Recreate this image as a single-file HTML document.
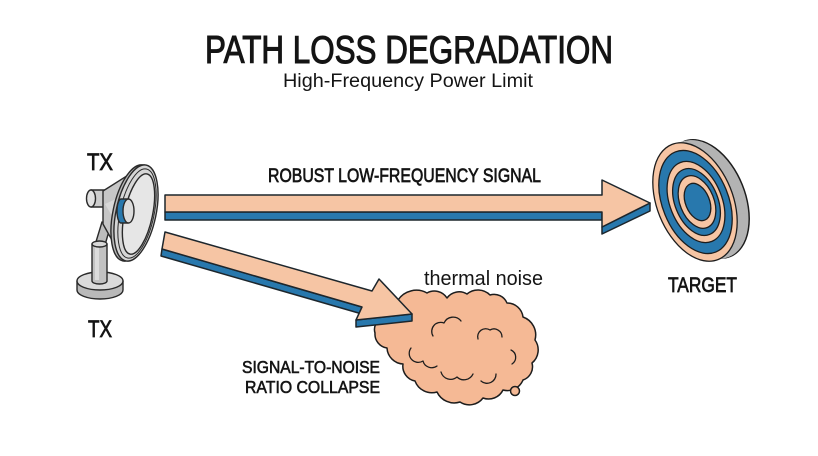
<!DOCTYPE html>
<html>
<head>
<meta charset="utf-8">
<style>
  html,body{margin:0;padding:0;background:#ffffff;}
  body{width:818px;height:456px;overflow:hidden;}
  svg{display:block;}
  text{font-family:"Liberation Sans", sans-serif;fill:#141414;}
</style>
</head>
<body>
<svg width="818" height="456" viewBox="0 0 818 456" xmlns="http://www.w3.org/2000/svg">
  <rect width="818" height="456" fill="#ffffff"/>

  <!-- Titles -->
  <text x="205" y="63" font-size="39" stroke="#141414" stroke-width="1.1" textLength="408" lengthAdjust="spacingAndGlyphs">PATH LOSS DEGRADATION</text>
  <text x="283" y="87" font-size="19" textLength="250" lengthAdjust="spacingAndGlyphs">High-Frequency Power Limit</text>

  <!-- Top arrow -->
  <g stroke="#1d262c" stroke-width="1.5" stroke-linejoin="round">
    <polygon points="165,212 602,212 602,220 165,220" fill="#2878ad"/>
    <polygon points="602,227 650,203 650,211 602,234" fill="#2878ad"/>
    <polygon points="165,195 602,195 602,180 650,203 602,227 602,212 165,212" fill="#f6c5a4"/>
  </g>
  <text x="268" y="182" font-size="19.5" stroke="#141414" stroke-width="0.7" textLength="273" lengthAdjust="spacingAndGlyphs">ROBUST LOW-FREQUENCY SIGNAL</text>

  <!-- Cloud -->
  <g stroke="#1d1d1d" stroke-width="1.5" fill="#f5b995" stroke-linejoin="round">
    <path d="M398,300
      A22,22 0 0 1 427,293
      A15,15 0 0 1 447,298
      A15,15 0 0 1 467,294
      A17,17 0 0 1 490,295
      A14,14 0 0 1 507,303
      A16,16 0 0 1 523,317
      A19,19 0 0 1 535,340
      A17,17 0 0 1 532,363
      A14,14 0 0 1 523,380
      A17,17 0 0 1 503,390
      A16,16 0 0 1 483,398
      A17,17 0 0 1 460,402
      A19,19 0 0 1 437,392
      A18,18 0 0 1 415,381
      A15,15 0 0 1 403,364
      A17,17 0 0 1 387,348
      A14,14 0 0 1 375,333
      A12,12 0 0 1 383,318
      A17,17 0 0 1 398,300 Z"/>
    <circle cx="515" cy="391" r="4.5"/>
    <g fill="none" stroke-width="1.3" stroke-linecap="round">
      <path d="M433,336 A9,9 0 0 1 444,323 A10,10 0 0 1 461,321"/>
      <path d="M478,339 A8,8 0 0 1 490,330 A8,8 0 0 1 502,337"/>
      <path d="M411,348 A9,9 0 0 0 423,361 A9,9 0 0 0 437,366"/>
      <path d="M441,372 A10,10 0 0 0 457,377 A10,10 0 0 0 473,374"/>
      <path d="M481,381 A9,9 0 0 0 496,374"/>
      <path d="M511,350 A8,8 0 0 1 512,364"/>
    </g>
  </g>
  <text x="424" y="285" font-size="20" textLength="119" lengthAdjust="spacingAndGlyphs">thermal noise</text>

  <!-- Lower arrow -->
  <g stroke="#1d262c" stroke-width="1.5" stroke-linejoin="round">
    <polygon points="162,249 362,307 362,314 161,256" fill="#2878ad"/>
    <polygon points="356,320 412,314 412,321 356,327" fill="#2878ad"/>
    <polygon points="165,232 372,291 379,279 412,314 356,320 362,307 162,249" fill="#f6c5a4"/>
  </g>

  <text x="242" y="373" font-size="17.5" stroke="#141414" stroke-width="0.6" textLength="138" lengthAdjust="spacingAndGlyphs">SIGNAL-TO-NOISE</text>
  <text x="245" y="393" font-size="17.5" stroke="#141414" stroke-width="0.6" textLength="135" lengthAdjust="spacingAndGlyphs">RATIO COLLAPSE</text>

  <!-- Speaker (TX) -->
  <g stroke="#2a2a2a" stroke-width="1.4" stroke-linejoin="round">
    <!-- base -->
    <path d="M77,281 L77,290 A23,9 0 0 0 123,290 L123,281 Z" fill="#b9b9b9"/>
    <ellipse cx="100" cy="281" rx="23" ry="9" fill="#dadada"/>
    <!-- pole -->
    <path d="M92,244 L92,281 A7.5,3 0 0 0 107,281 L107,244 Z" fill="#c2c2c2"/>
    <rect x="95" y="247" width="4" height="33" fill="#dcdcdc" stroke="none"/>
    <!-- neck -->
    <polygon points="95,245 105,245 111,224 102,222" fill="#bdbdbd"/>
    <ellipse cx="99.5" cy="244" rx="7.5" ry="3" fill="#d8d8d8"/>
    <!-- back cap -->
    <path d="M91,190 L107,190 L107,207 L91,207 Z" fill="#cdcdcd"/>
    <ellipse cx="91" cy="198.5" rx="4.5" ry="8.5" fill="#e2e2e2"/>
    <!-- cone -->
    <path d="M103,191 L144,165 L123,260 L103,224 Z" fill="#c6c6c6"/>
    <path d="M105,204 L140,188 L130,247 Z" fill="#d8d8d8" stroke="none"/>
    <!-- disc rim -->
    <ellipse cx="133" cy="213" rx="20" ry="49" transform="rotate(12 133 213)" fill="#b8b8b8"/>
    <ellipse cx="136" cy="213" rx="20" ry="49" transform="rotate(12 136 213)" fill="#d6d6d6"/>
    <ellipse cx="137" cy="213.5" rx="17" ry="45.5" transform="rotate(12 137 213.5)" fill="none" stroke-width="1"/>
    <ellipse cx="138.5" cy="214" rx="14" ry="41" transform="rotate(12 138.5 214)" fill="#e6e6e6"/>
    <!-- driver -->
    <path d="M121,199 L128,199 L128,223 L121,223 A4,12 0 0 1 121,199 Z" fill="#2878ad"/>
    <ellipse cx="128.5" cy="211" rx="5.5" ry="12" fill="#dcdcdc"/>
  </g>
  <text x="87" y="170" font-size="24" stroke="#141414" stroke-width="0.8" textLength="26" lengthAdjust="spacingAndGlyphs">TX</text>
  <text x="88" y="337" font-size="24" stroke="#141414" stroke-width="0.8" textLength="24" lengthAdjust="spacingAndGlyphs">TX</text>

  <!-- Target -->
  <g stroke-linejoin="round">
    <ellipse cx="707" cy="199" rx="38" ry="62" transform="rotate(-22 707 199)" fill="#b3b3b3" stroke="#1d1d1d" stroke-width="1.5"/>
    <g fill="#b3b3b3" stroke="none">
      <ellipse cx="706" cy="199.3" rx="38" ry="62" transform="rotate(-22 706 199.3)"/>
      <ellipse cx="705" cy="199.5" rx="38" ry="62" transform="rotate(-22 705 199.5)"/>
      <ellipse cx="704" cy="199.8" rx="38" ry="62" transform="rotate(-22 704 199.8)"/>
      <ellipse cx="703" cy="200" rx="38" ry="62" transform="rotate(-22 703 200)"/>
      <ellipse cx="702" cy="200.2" rx="38" ry="62" transform="rotate(-22 702 200.2)"/>
      <ellipse cx="701" cy="200.4" rx="38" ry="62" transform="rotate(-22 701 200.4)"/>
      <ellipse cx="700" cy="200.6" rx="38" ry="62" transform="rotate(-22 700 200.6)"/>
      <ellipse cx="699" cy="200.8" rx="38" ry="62" transform="rotate(-22 699 200.8)"/>
      <ellipse cx="698" cy="201.2" rx="38" ry="62" transform="rotate(-22 698 201.2)"/>
      <ellipse cx="697" cy="201.5" rx="38" ry="62" transform="rotate(-22 697 201.5)"/>
      <ellipse cx="696" cy="201.8" rx="38" ry="62" transform="rotate(-22 696 201.8)"/>
    </g>
    <g stroke="#1d1d1d" stroke-width="1.3">
      <ellipse cx="695" cy="202" rx="38" ry="62" transform="rotate(-22 695 202)" fill="#f6c5a4"/>
      <ellipse cx="695.5" cy="202" rx="33" ry="54" transform="rotate(-22 695.5 202)" fill="#2878ad"/>
      <ellipse cx="696" cy="202" rx="26" ry="42.5" transform="rotate(-22 696 202)" fill="#f6c5a4"/>
      <ellipse cx="696.5" cy="202" rx="21.5" ry="35" transform="rotate(-22 696.5 202)" fill="#2878ad"/>
      <ellipse cx="697" cy="202" rx="17" ry="27.5" transform="rotate(-22 697 202)" fill="#f6c5a4"/>
      <ellipse cx="697.5" cy="202" rx="12" ry="19.5" transform="rotate(-22 697.5 202)" fill="#2878ad"/>
    </g>
  </g>
  <text x="668" y="292" font-size="21" stroke="#141414" stroke-width="0.7" textLength="69" lengthAdjust="spacingAndGlyphs">TARGET</text>
</svg>
</body>
</html>
